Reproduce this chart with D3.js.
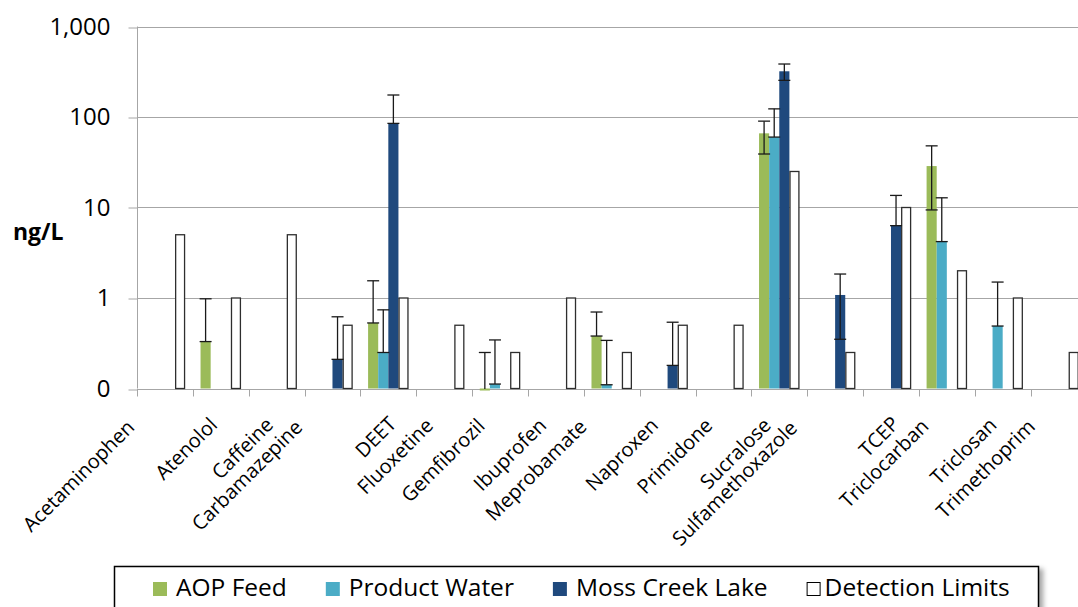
<!DOCTYPE html>
<html>
<head>
<meta charset="utf-8">
<script src="https://cdn.jsdelivr.net/npm/d3@7"></script>
<style>
  html, body { margin: 0; padding: 0; background: #fff; }
  svg { display: block; font-family: "Open Sans", sans-serif; }
</style>
</head>
<body>
<svg id="chart" width="1078" height="607"></svg>
<script>
// Compounds measured (x categories)
const categories = [
  "Acetaminophen", "Atenolol", "Caffeine", "Carbamazepine", "DEET", "Fluoxetine",
  "Gemfibrozil", "Ibuprofen", "Meprobamate", "Naproxen", "Primidone", "Sucralose",
  "Sulfamethoxazole", "TCEP", "Triclocarban", "Triclosan", "Trimethoprim"
];

const seriesNames = ["AOP Feed", "Product Water", "Moss Creek Lake", "Detection Limits"];

// Mean concentrations, ng/L (null = not detected)
const aopFeed      = [null, 0.33, null, null, 0.53, null, 0.095, null, 0.38, null, null, 66, null, null, 28.7, null, null];
const productWater = [null, null, null, null, 0.25, null, 0.112, null, 0.11, null, null, 60, null, null, 4.2, 0.49, null];
const mossCreek    = [null, null, null, 0.21, 85, null, null, null, null, 0.18, null, 320, 1.08, 6.3, null, null, null];
const detectLimits = [5, 1, 5, 0.5, 1, 0.5, 0.25, 1, 0.25, 0.5, 0.5, 25, 0.25, 10, 2, 1, 0.25];

// Error bar ends, ng/L
const aopFeedLow       = [null, 0.33, null, null, 0.53, null, 0.095, null, 0.38, null, null, 39, null, null, 9.4, null, null];
const aopFeedHigh      = [null, 0.98, null, null, 1.55, null, 0.25, null, 0.70, null, null, 90, null, null, 48, null, null];
const productWaterLow  = [null, null, null, null, 0.25, null, 0.112, null, 0.11, null, null, 60, null, null, 4.2, 0.49, null];
const productWaterHigh = [null, null, null, null, 0.74, null, 0.344, null, 0.34, null, null, 123, null, null, 12.8, 1.5, null];
const mossCreekLow     = [null, null, null, 0.21, 85, null, null, null, null, 0.18, null, 254, 0.35, 6.3, null, null, null];
const mossCreekHigh    = [null, null, null, 0.62, 175, null, null, null, null, 0.54, null, 385, 1.84, 13.6, null, null, null];

// Log axis ticks and their printed labels
const yTickValues = [0.1, 1, 10, 100, 1000];
const yTickLabels = ["0", "1", "10", "100", "1,000"];
const yTitle = "ng/L";

const colors = ["#9bbb59", "#4bacc6", "#1f497d", "#ffffff"];

const seriesValues = [aopFeed, productWater, mossCreek, detectLimits];
const seriesLow  = [aopFeedLow, productWaterLow, mossCreekLow, null];
const seriesHigh = [aopFeedHigh, productWaterHigh, mossCreekHigh, null];

// ---- layout ----
const plotLeft = 137, plotTop = 26.5, plotBottom = 388.5, catStep = 55.85;
const gridColor = "#a6a6a6";

const svg = d3.select("#chart");

const x = d3.scaleBand()
  .domain(categories)
  .range([plotLeft, plotLeft + catStep * categories.length])
  .padding(0);

const xInner = d3.scaleBand()
  .domain(seriesNames)
  .range([0, x.bandwidth()])
  .paddingInner(0)
  .paddingOuter(0.76);

const y = d3.scaleLog().domain([0.1, 1000]).range([plotBottom, plotTop]);
const plotRight = x.range()[1];

// Horizontal gridlines
svg.append("g")
  .selectAll("line")
  .data(yTickValues.slice(1))
  .join("line")
  .attr("x1", plotLeft)
  .attr("x2", plotRight)
  .attr("y1", d => Math.round(y(d)) + 0.5)
  .attr("y2", d => Math.round(y(d)) + 0.5)
  .attr("stroke", gridColor)
  .attr("stroke-width", 1);

// Y axis with tick labels
const yAxis = d3.axisLeft(y)
  .tickValues(yTickValues)
  .tickFormat((d, i) => yTickLabels[i])
  .tickSize(9)
  .tickPadding(18);

const yAxisG = svg.append("g")
  .attr("transform", `translate(${plotLeft + 0.5},0)`)
  .call(yAxis);
yAxisG.select(".domain").attr("stroke", gridColor).attr("d", `M0,${plotTop}V${plotBottom}`);
yAxisG.selectAll(".tick line").attr("stroke", gridColor)
  .attr("transform", d => `translate(0,${Math.round(y(d)) + 0.5 - y(d)})`);
yAxisG.selectAll(".tick text")
  .attr("fill", "#000")
  .style("font-family", "'Open Sans', sans-serif")
  .style("font-size", "24px");

// X axis baseline and category boundary ticks
const xAxisG = svg.append("g");
xAxisG.append("line")
  .attr("x1", plotLeft).attr("x2", plotRight)
  .attr("y1", Math.round(plotBottom) + 0.5).attr("y2", Math.round(plotBottom) + 0.5)
  .attr("stroke", gridColor);
const boundaries = categories.map(c => x(c)).concat([plotRight]);
xAxisG.selectAll("line.tick")
  .data(boundaries)
  .join("line")
  .attr("class", "tick")
  .attr("x1", d => Math.round(d) + 0.5)
  .attr("x2", d => Math.round(d) + 0.5)
  .attr("y1", Math.round(plotBottom))
  .attr("y2", Math.round(plotBottom) + 7.5)
  .attr("stroke", gridColor);

// Bars
const barsG = svg.append("g");
seriesNames.forEach((name, si) => {
  const vals = seriesValues[si];
  const pts = categories.map((c, i) => ({ c, v: vals[i] })).filter(d => d.v != null);
  const isDL = si === 3;
  barsG.append("g")
    .selectAll("rect")
    .data(pts)
    .join("rect")
    .attr("x", d => x(d.c) + xInner(name) + (isDL ? 0.6 : 0))
    .attr("width", xInner.bandwidth() - (isDL ? 1.2 : 0))
    .attr("y", d => Math.min(y(d.v), y(0.1)))
    .attr("height", d => Math.abs(y(0.1) - y(d.v)))
    .attr("fill", colors[si])
    .attr("stroke", isDL ? "#2e2e2e" : "none")
    .attr("stroke-width", isDL ? 1.3 : 0);
});

// Error bars (kept inside the plot area)
svg.append("clipPath").attr("id", "plotClip")
  .append("rect")
  .attr("x", plotLeft).attr("y", 0)
  .attr("width", plotRight - plotLeft).attr("height", plotBottom + 0.5);

const errG = svg.append("g").attr("clip-path", "url(#plotClip)");
const capHalf = 6;
seriesNames.forEach((name, si) => {
  if (!seriesLow[si]) return;
  categories.forEach((c, i) => {
    const lo = seriesLow[si][i], hi = seriesHigh[si][i];
    if (lo == null || hi == null) return;
    const cx = x(c) + xInner(name) + xInner.bandwidth() / 2;
    const g = errG.append("g").attr("stroke", "#1a1a1a").attr("stroke-width", 1.3);
    g.append("line").attr("x1", cx).attr("x2", cx).attr("y1", y(lo)).attr("y2", y(hi));
    g.append("line").attr("x1", cx - capHalf).attr("x2", cx + capHalf).attr("y1", y(hi)).attr("y2", y(hi));
    g.append("line").attr("x1", cx - capHalf).attr("x2", cx + capHalf).attr("y1", y(lo)).attr("y2", y(lo));
  });
});

// Rotated category labels: right end placed relative to the category centre,
// pulled back along the 45° baseline in proportion to the label length
const labelsG = svg.append("g")
  .style("font-size", "20px")
  .attr("fill", "#000");
categories.forEach(c => {
  const t = labelsG.append("text").attr("text-anchor", "end").text(c);
  const len = t.node().getComputedTextLength();
  const back = 2 + 0.05 * len;
  const ex = x(c) + x.bandwidth() / 2 + 29 - 0.35 * len - back * Math.SQRT1_2;
  const ey = 422 + back * Math.SQRT1_2;
  t.attr("transform", `translate(${ex},${ey}) rotate(-45)`);
});

// Y axis title
svg.append("text")
  .attr("x", 13).attr("y", 240)
  .style("font-size", "23px")
  .style("font-weight", "bold")
  .attr("fill", "#000")
  .text(yTitle);

// Legend
const defs = svg.append("defs");
const shadow = defs.append("filter").attr("id", "legendShadow")
  .attr("x", "-5%").attr("y", "-30%").attr("width", "115%").attr("height", "180%");
shadow.append("feDropShadow")
  .attr("dx", 4).attr("dy", 3).attr("stdDeviation", 2.5)
  .attr("flood-color", "#000").attr("flood-opacity", 0.35);

svg.append("rect")
  .attr("x", 114.5).attr("y", 566.5)
  .attr("width", 924).attr("height", 70)
  .attr("fill", "#fff")
  .attr("stroke", "#000")
  .attr("stroke-width", 1.5)
  .attr("filter", "url(#legendShadow)");

const legendG = svg.append("g").style("font-size", "24.5px");
let lx = 153;
seriesNames.forEach((name, si) => {
  const isDL = si === 3;
  legendG.append("rect")
    .attr("x", lx + (isDL ? 0.5 : 0)).attr("y", isDL ? 582.5 : 582)
    .attr("width", isDL ? 13 : 14).attr("height", isDL ? 13 : 14)
    .attr("fill", colors[si])
    .attr("stroke", isDL ? "#000" : "none")
    .attr("stroke-width", 1);
  const gap = isDL ? 4 : 9;
  const t = legendG.append("text")
    .attr("x", lx + 14 + gap).attr("y", 596)
    .attr("fill", "#000")
    .text(name);
  lx += 14 + gap + t.node().getComputedTextLength() + 39;
});
</script>
</body>
</html>
